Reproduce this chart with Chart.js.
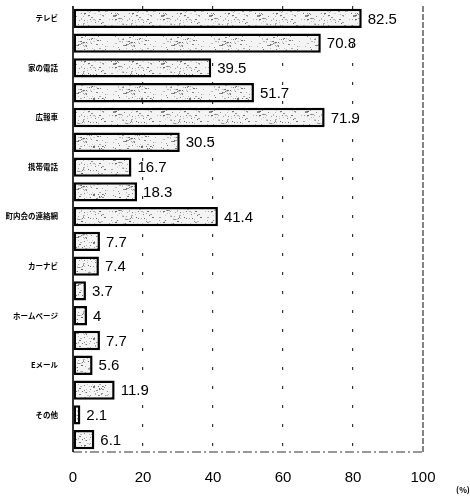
<!DOCTYPE html>
<html>
<head>
<meta charset="utf-8">
<script src="https://cdn.jsdelivr.net/npm/chart.js@4/dist/chart.umd.min.js"></script>
<style>
  html, body { margin: 0; padding: 0; background: #fff; }
  #wrap { width: 470px; height: 501px; position: relative; }
</style>
</head>
<body>
<div id="wrap"><canvas id="chart" width="470" height="501"></canvas></div>
<script>
'use strict';

// two answers per medium, the label sits on the first bar of each pair
const categories = ['テレビ', '家の電話', '広報車', '携帯電話', '町内会の連絡網', 'カーナビ', 'ホームページ', 'Eメール', 'その他'];
const firstValues = [82.5, 39.5, 71.9, 16.7, 41.4, 7.4, 4, 5.6, 2.1];
const secondValues = [70.8, 51.7, 30.5, 18.3, 7.7, 3.7, 7.7, 11.9, 6.1];
const xTicks = [0, 20, 40, 60, 80, 100];

const labels = [];
const values = [];
categories.forEach((name, i) => {
  labels.push(name);
  values.push(firstValues[i]);
  labels.push('');
  values.push(secondValues[i]);
});

// speckled grey fill for the bars
function makeSpeckle() {
  const c = document.createElement('canvas');
  c.width = 48;
  c.height = 48;
  const g = c.getContext('2d');
  g.fillStyle = '#f4f4f4';
  g.fillRect(0, 0, 48, 48);
  let seed = 7;
  function next() {
    seed = (seed * 16807) % 2147483647;
    return seed / 2147483647;
  }
  for (let i = 0; i < 220; i++) {
    const x = Math.floor(next() * 48);
    const y = Math.floor(next() * 48);
    const shade = Math.floor(100 + next() * 110);
    g.fillStyle = 'rgb(' + shade + ',' + shade + ',' + shade + ')';
    g.fillRect(x, y, next() < 0.3 ? 2 : 1, 1);
  }
  return c;
}

const canvasEl = document.getElementById('chart');
const ctx = canvasEl.getContext('2d');
const speckle = ctx.createPattern(makeSpeckle(), 'repeat');

const valueLabels = {
  id: 'valueLabels',
  afterDatasetsDraw(chart) {
    const c = chart.ctx;
    const meta = chart.getDatasetMeta(0);
    c.save();
    c.fillStyle = '#000';
    c.font = '15px "Liberation Sans", Arial, sans-serif';
    c.textBaseline = 'middle';
    c.textAlign = 'left';
    meta.data.forEach((bar, i) => {
      c.fillText(String(values[i]), bar.x + 6, bar.y + 1);
    });
    c.restore();
  }
};

const frame = {
  id: 'frame',
  afterDraw(chart) {
    const a = chart.chartArea;
    const c = chart.ctx;
    c.save();
    // dashed right edge
    c.strokeStyle = '#333';
    c.lineWidth = 1.2;
    c.setLineDash([6, 2]);
    c.beginPath();
    c.moveTo(a.right, a.top);
    c.lineTo(a.right, a.bottom);
    c.stroke();
    // dashed bottom edge
    c.setLineDash([9, 3, 2, 3]);
    c.beginPath();
    c.moveTo(a.left, a.bottom);
    c.lineTo(a.right, a.bottom);
    c.stroke();
    // solid left edge
    c.setLineDash([]);
    c.strokeStyle = '#000';
    c.lineWidth = 1.6;
    c.beginPath();
    c.moveTo(a.left, a.top);
    c.lineTo(a.left, a.bottom);
    c.stroke();
    // unit
    c.fillStyle = '#000';
    c.font = 'bold 8px "Noto Sans CJK JP", sans-serif';
    c.textAlign = 'center';
    c.textBaseline = 'middle';
    c.fillText('(%)', a.right + 40, a.bottom + 38);
    c.restore();
  }
};

new Chart(canvasEl, {
  type: 'bar',
  data: {
    labels: labels,
    datasets: [{
      data: values,
      backgroundColor: speckle,
      borderColor: '#000',
      borderWidth: 2.5,
      borderSkipped: false,
      barPercentage: 0.78,
      categoryPercentage: 1
    }]
  },
  options: {
    indexAxis: 'y',
    responsive: false,
    animation: false,
    layout: { padding: { top: 6, right: 47, bottom: 0, left: 0 } },
    plugins: {
      legend: { display: false },
      tooltip: { enabled: false }
    },
    scales: {
      x: {
        min: 0,
        max: 100,
        afterBuildTicks(axis) {
          axis.ticks = xTicks.map(v => ({ value: v }));
        },
        afterFit(axis) {
          axis.height = 49;
          axis.paddingTop = 0;
          axis.paddingBottom = 0;
        },
        border: { display: false, dash: [3, 16] },
        grid: {
          drawTicks: false,
          color: c => (c.tick && (c.tick.value === 0 || c.tick.value === 100)) ? 'rgba(0,0,0,0)' : '#333',
          lineWidth: 1.2
        },
        ticks: {
          color: '#000',
          padding: 17,
          font: { family: '"Liberation Sans", Arial, sans-serif', size: 15 }
        }
      },
      y: {
        afterFit(axis) {
          axis.width = 73;
          axis.paddingTop = 0;
          axis.paddingBottom = 0;
        },
        border: { display: false },
        grid: { display: false, drawTicks: false },
        ticks: {
          color: '#000',
          padding: 15,
          autoSkip: false,
          font: { family: '"Noto Sans CJK JP", sans-serif', size: 7.5, weight: 'bold' }
        }
      }
    }
  },
  plugins: [valueLabels, frame]
});
</script>
</body>
</html>
